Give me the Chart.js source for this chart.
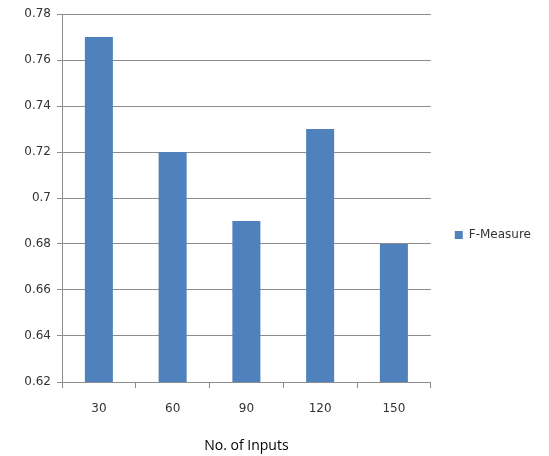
<!DOCTYPE html>
<html>
<head>
<meta charset="utf-8">
<script src="https://cdn.jsdelivr.net/npm/chart.js@4.4.0/dist/chart.umd.min.js"></script>
<style>
  html, body { margin: 0; padding: 0; background: #fff; }
  #wrap { width: 549px; height: 456px; }
</style>
</head>
<body>
<div id="wrap"><canvas id="chart" width="549" height="456"></canvas></div>
<script>
// F-Measure by number of inputs
const inputs = ["30", "60", "90", "120", "150"];
const fMeasure = [0.77, 0.72, 0.69, 0.73, 0.68];
const yTicks = [0.62, 0.64, 0.66, 0.68, 0.70, 0.72, 0.74, 0.76, 0.78];

const gridColor = "#8c8c8c";
const textColor = "#333";
const tickFont = { family: "'DejaVu Sans', Verdana, sans-serif", size: 12 };

let ctx = document.getElementById("chart");
let chart = new Chart(ctx, {
    type: "bar",
    data: {
        labels: inputs,
        datasets: [{
            label: "F-Measure",
            data: fMeasure,
            backgroundColor: "#4f81bd",
            borderWidth: 0,
            categoryPercentage: 1,
            barPercentage: 0.38
        }]
    },
    options: {
        responsive: false,
        animation: false,
        layout: { padding: { top: 14, left: 0, right: 8, bottom: 0 } },
        plugins: {
            tooltip: { enabled: false },
            legend: {
                position: "right",
                labels: {
                    boxWidth: 8,
                    boxHeight: 8,
                    padding: 24,
                    color: textColor,
                    font: tickFont
                }
            }
        },
        scales: {
            x: {
                offset: true,
                grid: {
                    offset: true,
                    drawOnChartArea: false,
                    tickLength: 6,
                    color: gridColor
                },
                border: { color: gridColor },
                ticks: {
                    padding: 14,
                    color: textColor,
                    font: tickFont
                },
                title: {
                    display: true,
                    text: "No. of Inputs",
                    color: "#000",
                    padding: { top: 12, bottom: 2 },
                    font: { family: "'Open Sans', 'Liberation Sans', sans-serif", size: 14 }
                },
                afterFit: (scale) => { scale.height = 74; }
            },
            y: {
                min: yTicks[0],
                max: yTicks[yTicks.length - 1],
                afterBuildTicks: (scale) => {
                    scale.ticks = yTicks.map(v => ({ value: v }));
                },
                afterFit: (scale) => { scale.width = 62; },
                grid: { color: gridColor, tickLength: 5 },
                border: { color: gridColor },
                ticks: {
                    padding: 6,
                    color: textColor,
                    font: tickFont,
                    callback: (value) => String(Number(value.toFixed(2)))
                }
            }
        }
    }
});
</script>
</body>
</html>
